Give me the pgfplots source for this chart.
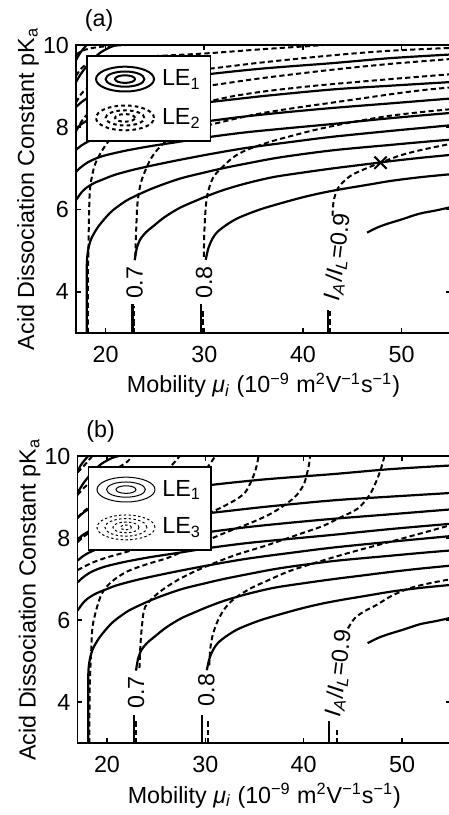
\documentclass[border=0pt]{standalone}
\usepackage{fontspec}
\setmainfont{Liberation Sans}
\usepackage{pgfplots}
\pgfplotsset{compat=1.18}

\newcommand{\fs}{\fontsize{11.65}{14}\selectfont}

\pgfplotsset{
  ellthree/.style={legend image code/.code={
    \draw[##1] (0pt,0pt) ellipse (14.5pt and 6.2pt);
    \draw[##1] (0pt,0pt) ellipse (9.7pt and 3.8pt);
    \draw[##1] (0pt,0pt) ellipse (5pt and 1.9pt);}},
  ellfour/.style={legend image code/.code={
    \draw[##1] (0pt,0pt) ellipse (14.5pt and 6.2pt);
    \draw[##1] (0pt,0pt) ellipse (10.5pt and 4.4pt);
    \draw[##1] (0pt,0pt) ellipse (6.5pt and 2.7pt);
    \draw[##1] (0pt,0pt) ellipse (2.8pt and 1.2pt);}},
  sc/.style={black, line width=1.1pt, forget plot, no marks, smooth, tension=0.5},
  dc/.style={black, line width=1pt, forget plot, no marks, smooth, tension=0.5, dash pattern=on 2.6pt off 1.6pt},
  myaxis/.style={
    scale only axis, xmin=17, xmax=55, ymin=3, ymax=10,
    xtick={20,30,40,50}, ytick={4,6,8,10},
    tick align=inside, major tick length=2.5pt,
    every tick/.style={black, line width=0.8pt},
    axis line style={black, line width=0.9pt},
    xticklabel style={yshift=-3pt},
    /pgf/number format/assume math mode=true,
    ticklabel style={font=\fs},
    label style={font=\fs},
    xlabel={Mobility \textit{μ}\textsubscript{\textit{i}} (10\textsuperscript{−9} m\textsuperscript{2}V\textsuperscript{−1}s\textsuperscript{−1})},
    ylabel={Acid Dissociation Constant pK\textsubscript{a}},
    every axis x label/.style={at={(axis description cs:0.5,-0.208)}, anchor=base},
    every axis y label/.style={at={(axis description cs:-0.128,0.5)}, anchor=center, rotate=90},
    every axis title/.style={at={(axis description cs:0.005,1)}, anchor=base west, yshift=9.5pt, font=\fs},
    legend style={at={(axis description cs:0.027,0.966)}, anchor=north west, draw=black, line width=0.9pt, fill=white, inner xsep=4pt, inner ysep=5pt, row sep=6pt, column sep=2.5pt, nodes={inner sep=1pt}, font=\fs},
    legend cell align=left,
  }
}

\newcommand{\solidcurves}{%
\addplot[sc] coordinates {(42.55,3)(42.55,3.55)};
\addplot[sc] coordinates {(46.5,5.44)(47.5,5.56)(48.5,5.65)(50,5.76)(51.8,5.9)(53.5,5.98)(55,6.06)};
\addplot[sc] coordinates {(29.7,3)(29.7,3.7)};
\addplot[sc] coordinates {(30.15,4.78)(30.4,5.05)(30.8,5.28)(31.3,5.45)(32.2,5.62)(33.3,5.78)(34.7,5.92)(36,6.03)(38,6.17)(40,6.3)(42,6.41)(44,6.5)(46.5,6.6)(49,6.7)(52,6.79)(55,6.86)};
\addplot[sc] coordinates {(22.72,3)(22.72,3.7)};
\addplot[sc] coordinates {(22.95,4.77)(23.15,5.05)(23.5,5.27)(24.1,5.45)(24.85,5.6)(26,5.82)(27.5,6.04)(29,6.2)(30.3,6.33)(32,6.48)(34.3,6.64)(37,6.79)(40,6.9)(43,7.0)(46,7.09)(49,7.18)(52,7.26)(55,7.33)};
\addplot[sc] coordinates {(18.09,3)(18.09,4.4)(18.12,4.8)(18.3,5.1)(18.6,5.32)(19.3,5.6)(20.45,5.92)(21.5,6.12)(22.5,6.27)(24.8,6.52)(27.5,6.75)(30,6.9)(32,7.01)(34.3,7.12)(37.7,7.27)(43,7.44)(48.8,7.57)(52,7.64)(55,7.7)};
\addplot[sc] coordinates {(17,6.23)(17.5,6.4)(18,6.52)(18.8,6.64)(19.8,6.74)(21,6.85)(23.2,6.99)(26.5,7.16)(30.4,7.34)(34.3,7.5)(39,7.65)(43,7.77)(48.8,7.91)(55,8.05)};
\addplot[sc] coordinates {(17,6.92)(17.5,7.03)(18.2,7.15)(19,7.24)(20,7.32)(22,7.43)(24.5,7.54)(27.5,7.65)(30.4,7.76)(34.3,7.88)(39,7.99)(43,8.08)(48.8,8.22)(55,8.35)};
\addplot[sc] coordinates {(17,7.45)(17.5,7.55)(18.2,7.65)(19,7.73)(20,7.8)(22,7.9)(25,8.0)(28,8.08)(30.4,8.15)(34,8.26)(38,8.36)(43,8.47)(48.8,8.58)(55,8.7)};
\addplot[sc] coordinates {(17,7.96)(17.5,8.07)(18.2,8.17)(19,8.25)(20,8.32)(23,8.43)(26,8.51)(30.4,8.61)(36,8.76)(43,8.92)(48.8,9.01)(55,9.1)};
\addplot[sc] coordinates {(17,8.49)(17.5,8.6)(18.2,8.72)(19,8.81)(20,8.89)(23,9.04)(26,9.15)(30.4,9.29)(36,9.43)(43,9.56)(48.8,9.68)(55,9.77)};
\addplot[sc] coordinates {(17,9.1)(17.5,9.3)(18,9.46)(18.7,9.65)(19.5,9.82)(20.5,9.95)(21.2,10)};
\addplot[sc] coordinates {(17,9.63)(17.4,9.8)(17.9,9.95)(18.1,10)};
}

\begin{document}
\begin{tikzpicture}[font=\fs]
\useasboundingbox (0,0) rectangle (224.5pt,407.5pt);

% ---------------- panel (a)
\begin{axis}[myaxis, at={(38pt,241pt)}, anchor=south west, width=187.5pt, height=144pt, title={(a)}]
\addlegendimage{black, line width=1pt, ellthree}
\addlegendentry{LE\textsubscript{1}}
\addlegendimage{black, line width=1pt, dash pattern=on 1.8pt off 1.6pt, ellthree}
\addlegendentry{LE\textsubscript{2}}

\solidcurves

\addplot[dc] coordinates {(42.7,3)(42.7,3.55)};
\addplot[dc] coordinates {(43.0,5.85)(43.1,6.2)(43.5,6.5)(44.2,6.7)(45.1,6.86)(46.8,7.04)(47.86,7.14)(49.9,7.32)(52,7.45)(55,7.6)};
\addplot[dc] coordinates {(29.9,3)(29.9,3.6)};
\addplot[dc] coordinates {(29.95,4.85)(30.0,5.4)(30.1,5.9)(30.3,6.35)(30.9,6.78)(31.95,7.06)(33,7.28)(34.3,7.45)(36.7,7.65)(39,7.8)(41.1,7.93)(43.8,8.07)(46,8.17)(48.8,8.28)(52,8.37)(55,8.44)};
\addplot[dc] coordinates {(22.85,3)(22.85,3.65)};
\addplot[dc] coordinates {(23.0,4.85)(23.1,5.5)(23.2,6.07)(23.4,6.45)(23.7,6.75)(24.5,7.2)(25.3,7.47)(26.2,7.67)(27.5,7.85)(29,7.97)(30.6,8.06)(33,8.2)(36,8.35)(40,8.5)(43,8.6)(48.8,8.8)(52,8.9)(55,8.97)};
\addplot[dc] coordinates {(18.2,3)(18.2,4.3)(18.25,4.85)(18.3,5.6)(18.4,6.45)(18.7,6.9)(19.1,7.2)(20.1,7.6)(21.2,7.88)(22.5,8.07)(25,8.33)(27.5,8.5)(30.4,8.63)(33,8.76)(36,8.87)(40,8.98)(43,9.05)(48.8,9.17)(55,9.29)};
\addplot[dc] coordinates {(17,7.9)(17.5,8.12)(18,8.28)(19,8.48)(20,8.6)(22,8.73)(25,8.85)(30.4,9.01)(36,9.2)(43,9.4)(48.8,9.54)(55,9.66)};
\addplot[dc] coordinates {(17,8.6)(17.5,8.8)(18,8.92)(19,9.05)(20,9.12)(22.5,9.22)(25,9.29)(30.4,9.42)(36,9.58)(43,9.75)(48.8,9.86)(55,9.93)};
\addplot[dc] coordinates {(17,9.25)(17.5,9.42)(18,9.52)(19,9.6)(20,9.64)(22.5,9.7)(25,9.73)(30.4,9.8)(36,9.9)(41,9.98)(42,10)};
\addplot[dc] coordinates {(17,9.75)(17.5,9.85)(18.5,9.92)(20,9.97)(22,10)};

\addplot[black, only marks, mark=x, mark size=4.3pt, line width=1pt, forget plot] coordinates {(47.86,7.14)};

\node[rotate=90] at (axis cs:22.95,4.22) {0.7};
\node[rotate=90] at (axis cs:29.97,4.23) {0.8};
\node[rotate=83] at (axis cs:43.55,4.85) {\textit{I}\textsubscript{\textit{A}}/\textit{I}\textsubscript{\textit{L}}=0.9};
\end{axis}

% ---------------- panel (b)
\begin{axis}[myaxis, at={(38.75pt,35.85pt)}, anchor=south west, width=186.85pt, height=143.65pt, title={(b)}]
\addlegendimage{black, line width=0.5pt, ellthree}
\addlegendentry{LE\textsubscript{1}}
\addlegendimage{black, line width=0.5pt, dash pattern=on 1.2pt off 1.2pt, ellfour}
\addlegendentry{LE\textsubscript{3}}

\solidcurves

\addplot[dc] coordinates {(43.4,3)(43.4,3.35)};
\addplot[dc] coordinates {(44.5,5.8)(45.2,6.05)(46.2,6.22)(47.4,6.37)(49,6.6)(50.8,6.78)(52.8,6.9)(55,7.0)};
\addplot[dc] coordinates {(30.25,3)(30.25,3.6)};
\addplot[dc] coordinates {(30.4,4.9)(30.5,5.3)(30.75,5.64)(31.2,5.95)(31.77,6.21)(32.5,6.43)(33.46,6.61)(34.8,6.8)(36,6.93)(38.6,7.2)(42.3,7.48)(45.5,7.7)(49.1,7.93)(52,8.12)(55,8.32)};
\addplot[dc] coordinates {(22.95,3)(22.95,3.6)};
\addplot[dc] coordinates {(23.3,4.83)(23.4,5.4)(23.6,5.96)(23.9,6.33)(25.2,6.66)(27.2,6.98)(29.5,7.25)(32.85,7.57)(36.2,7.82)(39.6,8.1)(42,8.3)(43.7,8.5)(45.5,8.72)(46.7,9.05)(47.5,9.45)(48,9.8)(48.2,10)};
\addplot[dc] coordinates {(18.2,3)(18.25,4.4)(18.4,5.27)(18.58,5.92)(19.4,6.61)(20.44,6.93)(22,7.18)(24,7.36)(26.2,7.52)(28.5,7.76)(31.5,8.08)(34.5,8.36)(36.3,8.55)(37.6,8.73)(38.6,8.9)(39.3,9.05)(40.0,9.3)(40.3,9.54)(40.55,9.8)(40.65,10)};
\addplot[dc] coordinates {(17,7.22)(18.5,7.4)(20,7.53)(21.5,7.63)(23,7.75)(25.5,8.05)(28,8.35)(30.8,8.65)(32.85,8.9)(34,9.1)(34.6,9.35)(35.05,9.62)(35.3,9.85)(35.4,10)};
\addplot[dc] coordinates {(17,7.9)(18,8.1)(20,8.35)(22,8.52)(24,8.68)(26,8.86)(27.5,9.05)(28.7,9.3)(29.8,9.6)(30.6,9.85)(31.0,10)};
\addplot[dc] coordinates {(17,8.5)(18,8.72)(20,8.97)(22,9.15)(24,9.35)(25.5,9.55)(26.6,9.78)(27.4,10)};
\addplot[dc] coordinates {(17,9.05)(18,9.3)(19.5,9.5)(21,9.7)(22,9.85)(22.6,10)};
\addplot[dc] coordinates {(17,9.6)(17.8,9.8)(18.5,10)};

\node[rotate=90] at (axis cs:22.95,4.24) {0.7};
\node[rotate=90] at (axis cs:30.1,4.3) {0.8};
\node[rotate=83] at (axis cs:43.6,4.7) {\textit{I}\textsubscript{\textit{A}}/\textit{I}\textsubscript{\textit{L}}=0.9};
\end{axis}
\end{tikzpicture}
\end{document}
